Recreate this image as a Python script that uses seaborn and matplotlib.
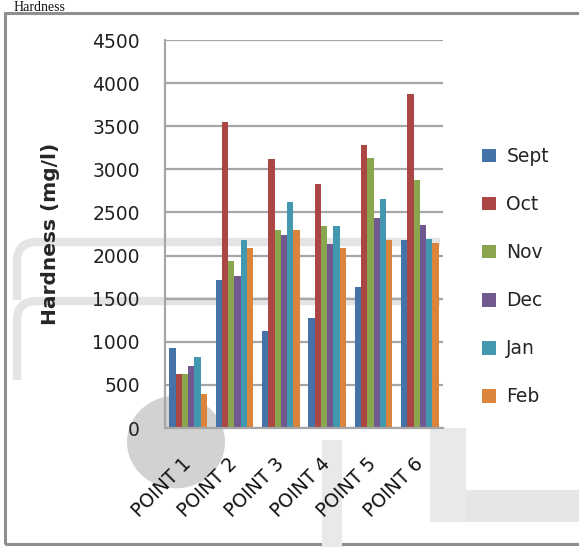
import matplotlib
matplotlib.use("Agg")
import matplotlib.pyplot as plt
from matplotlib.patches import Rectangle, Circle, FancyBboxPatch
from matplotlib.transforms import ScaledTranslation, Bbox
import seaborn as sns
import pandas as pd

points = ["POINT 1", "POINT 2", "POINT 3", "POINT 4", "POINT 5", "POINT 6"]
months = ["Sept", "Oct", "Nov", "Dec", "Jan", "Feb"]
sept = [925, 1715, 1120, 1270, 1640, 2180]
octo = [630, 3545, 3115, 2835, 3280, 3875]
nov = [630, 1940, 2295, 2345, 3130, 2875]
dec = [720, 1760, 2240, 2135, 2430, 2360]
jan = [825, 2180, 2625, 2345, 2655, 2190]
feb = [390, 2090, 2295, 2090, 2180, 2150]
yticks = [0, 500, 1000, 1500, 2000, 2500, 3000, 3500, 4000, 4500]
colors = ["#4572A7", "#AA4643", "#89A54E", "#71588F", "#4198AF", "#DB843D"]

series = [sept, octo, nov, dec, jan, feb]
df = pd.DataFrame(
    [(p, m, v) for m, vals in zip(months, series) for p, v in zip(points, vals)],
    columns=["point", "month", "hardness"],
)

sns.set_style("white")
plt.rcParams["font.family"] = ["DejaVu Sans"]

fig = plt.figure(figsize=(5.79, 5.47), dpi=100)
W, H = 579, 547


def box(x0, y0, x1, y1):
    """Pixel box (top-left origin) -> figure-fraction (x, y, w, h)."""
    return x0 / W, 1 - y1 / H, (x1 - x0) / W, (y1 - y0) / H


def pix_bbox(x0, y0, x1, y1):
    """Pixel box (top-left origin) -> display Bbox."""
    return Bbox.from_extents(x0, H - y1, x1, H - y0)


# outer chart frame
x, y, w, h = box(5, 13, 620, 544)
fig.patches.append(Rectangle((x, y), w, h, transform=fig.transFigure, fill=False,
                             edgecolor="#8f8f8f", linewidth=2.2, zorder=0))

# faint grey background shapes
fig.patches.append(Circle((176 / W, 1 - 442 / H), 49 / W, transform=fig.transFigure,
                          facecolor="#d2d2d2", edgecolor="none", zorder=0.2))
for top, bottom in ((242, 300), (301, 380)):
    x, y, w, h = box(17, top, 600, top + 300)
    band = FancyBboxPatch((x, y), w, h, boxstyle="round,pad=0,rounding_size=0.035",
                          transform=fig.transFigure, facecolor="none",
                          edgecolor="#e4e4e4", linewidth=6, zorder=0.2)
    band.set_clip_box(pix_bbox(0, top - 6, 440, bottom))
    fig.patches.append(band)
for (x0, y0, x1, y1, c) in [(430, 490, 579, 522, "#e6e6e6"),
                            (430, 428, 466, 522, "#e9e9e9"),
                            (322, 440, 342, 547, "#e9e9e9")]:
    x, y, w, h = box(x0, y0, x1, y1)
    fig.patches.append(Rectangle((x, y), w, h, transform=fig.transFigure,
                                 facecolor=c, edgecolor="none", zorder=0.2))

ax = fig.add_axes(box(165, 40, 443, 428))
ax.set_zorder(2)
ax.patch.set_alpha(0)

sns.barplot(data=df, x="point", y="hardness", hue="month", order=points,
            hue_order=months, palette=colors, width=0.81, saturation=1,
            edgecolor="none", ax=ax)

ax.set_ylim(0, 4500)
ax.set_xlim(-0.5, 5.5)
ax.set_yticks(yticks)
ax.set_yticklabels([str(t) for t in yticks], fontsize=13.5, color="#222222")
ax.yaxis.grid(True, color="#a6a6a6", linewidth=1.6)
ax.set_axisbelow(True)

ax.set_xticks(range(len(points)))
ax.set_xticklabels(points, rotation=45, ha="right", va="center",
                   rotation_mode="anchor", fontsize=13.5, color="#111111")
shift = ScaledTranslation(6 / 100, 0, fig.dpi_scale_trans)
for lab in ax.get_xticklabels():
    lab.set_transform(lab.get_transform() + shift)
ax.tick_params(axis="x", which="major", length=0, pad=24)
ax.set_xticks([i - 0.5 for i in range(len(points) + 1)], minor=True)
ax.tick_params(axis="x", which="minor", length=6, width=1.5, color="#a6a6a6",
               direction="out")
ax.tick_params(axis="y", length=8, width=1.5, color="#a6a6a6", direction="out", pad=10)

for side in ["top", "right"]:
    ax.spines[side].set_visible(False)
for side in ["left", "bottom"]:
    ax.spines[side].set_color("#a6a6a6")
    ax.spines[side].set_linewidth(1.6)

ax.set_xlabel("")
ax.set_ylabel("Hardness (mg/l)", fontsize=14.5, fontweight="bold")
ax.yaxis.set_label_coords((60 - 165) / 278, 0.5)

handles, labels = ax.get_legend_handles_labels()
ax.legend(handles, labels, loc="upper left", bbox_to_anchor=(482 / W, 1 - 147 / H),
          bbox_transform=fig.transFigure, frameon=False, fontsize=13.5,
          handlelength=0.75, handleheight=0.75, handletextpad=0.55,
          labelspacing=1.55, borderaxespad=0, borderpad=0)

fig.text(14 / W, 1 - 1 / H, "Hardness", fontsize=10, family="Liberation Serif",
         va="top", ha="left", color="#111111")

fig.savefig("out.png", dpi=100)
